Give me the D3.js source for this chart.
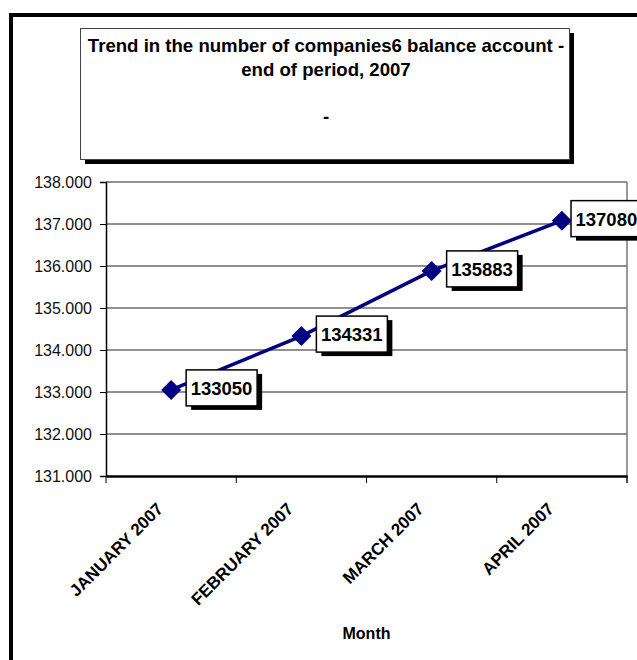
<!DOCTYPE html>
<html lang="en">
<head>
    <meta charset="UTF-8">
    <title>Trend in the number of companies balance account</title>
    <script src="https://d3js.org/d3.v7.min.js"></script>
    <style>
        body {
            margin: 0;
            background: white;
            font-family: 'Liberation Sans', Arial, sans-serif;
        }
    </style>
</head>
<body>

<div id="chart"></div>

<script>
const months = ['JANUARY 2007', 'FEBRUARY 2007', 'MARCH 2007', 'APRIL 2007'];
const companies = [133050, 134331, 135883, 137080];
const yTicks = [131000, 132000, 133000, 134000, 135000, 136000, 137000, 138000];
const titleLines = ['Trend in the number of companies6 balance account -', 'end of period, 2007', '', '-'];

const width = 637, height = 660;
const plot = { left: 106, right: 627, top: 182, bottom: 476 };

const svg = d3.select("#chart")
    .append("svg")
    .attr("width", width)
    .attr("height", height);

// outer frame (runs off the right and bottom edge)
svg.append("rect")
    .attr("x", 11).attr("y", 15)
    .attr("width", 700).attr("height", 700)
    .attr("fill", "white")
    .attr("stroke", "black")
    .attr("stroke-width", 4);

// title box with shadow
svg.append("rect")
    .attr("x", 85).attr("y", 33)
    .attr("width", 489).attr("height", 131)
    .attr("fill", "black");
svg.append("rect")
    .attr("x", 80.5).attr("y", 28.5)
    .attr("width", 489).attr("height", 131)
    .attr("fill", "white")
    .attr("stroke", "#444")
    .attr("stroke-width", 1);

svg.append("g")
    .selectAll("text")
    .data(titleLines)
    .join("text")
    .attr("x", 326)
    .attr("y", (d, i) => 52 + i * 23.5)
    .attr("text-anchor", "middle")
    .style("font-size", "18.6px")
    .style("font-weight", "bold")
    .text(d => d);

// scales
const x = d3.scaleBand()
    .domain(months)
    .range([plot.left, plot.right])
    .padding(0);

const y = d3.scaleLinear()
    .domain([131000, 138000])
    .range([plot.bottom, plot.top]);

const fmt = d => d3.format(",")(d).replace(/,/g, ".");

// gridlines
svg.append("g")
    .selectAll("line")
    .data(yTicks.slice(1))
    .join("line")
    .attr("x1", plot.left).attr("x2", plot.right)
    .attr("y1", d => y(d)).attr("y2", d => y(d))
    .attr("stroke", "#222")
    .attr("stroke-width", 1);

// right border of plot area
svg.append("line")
    .attr("x1", plot.right).attr("x2", plot.right)
    .attr("y1", plot.top).attr("y2", plot.bottom + 7)
    .attr("stroke", "#777")
    .attr("stroke-width", 1.5);

// y axis
const yAxis = svg.append("g")
    .attr("transform", `translate(${plot.left},0)`)
    .call(d3.axisLeft(y).tickValues(yTicks).tickFormat(fmt).tickSize(6).tickPadding(8));
yAxis.select(".domain").attr("stroke", "black").attr("stroke-width", 1.5);
yAxis.selectAll(".tick line").attr("stroke", "black");
yAxis.selectAll("text")
    .style("font-family", "'Liberation Sans', Arial, sans-serif")
    .style("font-size", "16px")
    .attr("fill", "#111");

// x axis
const xAxis = svg.append("g")
    .attr("transform", `translate(0,${plot.bottom})`)
    .call(d3.axisBottom(x).tickSize(0).tickFormat(""));
xAxis.select(".domain").attr("stroke", "black").attr("stroke-width", 2.5);

svg.append("g")
    .selectAll("line")
    .data(d3.range(months.length + 1))
    .join("line")
    .attr("x1", i => plot.left + i * x.bandwidth())
    .attr("x2", i => plot.left + i * x.bandwidth())
    .attr("y1", plot.bottom).attr("y2", plot.bottom + 7)
    .attr("stroke", "black")
    .attr("stroke-width", 1);

svg.append("g")
    .selectAll("text")
    .data(months)
    .join("text")
    .attr("transform", d => `translate(${x(d) + x.bandwidth() / 2 - 7},${plot.bottom + 34}) rotate(-45)`)
    .attr("text-anchor", "end")
    .style("font-size", "17px")
    .style("font-weight", "bold")
    .text(d => d);

svg.append("text")
    .attr("x", (plot.left + plot.right) / 2)
    .attr("y", 639)
    .attr("text-anchor", "middle")
    .style("font-size", "16px")
    .style("font-weight", "bold")
    .text("Month");

// series line
const pts = months.map((m, i) => ({ m: m, v: companies[i] }));
const cx = d => x(d.m) + x.bandwidth() / 2;
const line = d3.line()
    .x(cx)
    .y(d => y(d.v));

svg.append("path")
    .datum(pts)
    .attr("d", line)
    .attr("fill", "none")
    .attr("stroke", "#000080")
    .attr("stroke-width", 3.5);

svg.append("g")
    .selectAll("path")
    .data(pts)
    .join("path")
    .attr("transform", d => `translate(${cx(d)},${y(d.v)})`)
    .attr("d", "M0,-10L10,0L0,10L-10,0Z")
    .attr("fill", "#000080");

// data labels with shadow; the last one is pushed back inside the page
const boxW = 71;
const labels = svg.append("g")
    .selectAll("g")
    .data(pts)
    .join("g")
    .attr("transform", d => `translate(${Math.min(cx(d) + 15, width - boxW + 5)},${y(d.v)})`);

labels.append("rect")
    .attr("x", 5).attr("y", -16)
    .attr("width", boxW).attr("height", 36)
    .attr("fill", "black");
labels.append("rect")
    .attr("x", 0).attr("y", -20)
    .attr("width", boxW).attr("height", 36)
    .attr("fill", "white")
    .attr("stroke", "black")
    .attr("stroke-width", 1.5);
labels.append("text")
    .attr("x", 4.5)
    .attr("y", 5)
    .style("font-size", "18.5px")
    .style("font-weight", "bold")
    .text(d => d.v);
</script>

</body>
</html>
